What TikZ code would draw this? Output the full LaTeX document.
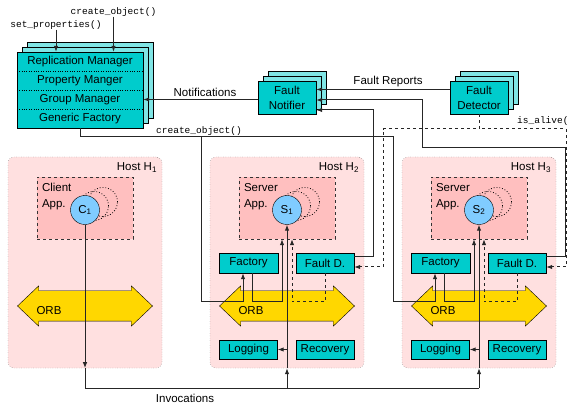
\documentclass[tikz,border=0pt]{standalone}
\usepackage{fontspec}
\setmainfont{Liberation Sans}
\setmonofont{Liberation Mono}
\usetikzlibrary{shapes.arrows,shadows,calc,arrows.meta}

\definecolor{boxcyan}{HTML}{00CCCC}
\definecolor{backcyan}{HTML}{80E5E5}
\definecolor{hostpink}{HTML}{FFE0E0}
\definecolor{apppink}{HTML}{FFBFBF}
\definecolor{objblue}{HTML}{80CCFF}
\definecolor{orbyellow}{HTML}{FFD700}
\definecolor{wiregray}{HTML}{262626}

\begin{document}
\begin{tikzpicture}[x=1pt, y=-1pt]
    % ---------- styles ----------
    \tikzset{
        lbl/.style={font=\fontsize{11.5}{16}\selectfont, inner sep=0pt},
        code/.style={font=\ttfamily\fontsize{9.5}{11}\selectfont, inner sep=0pt},
        cbox/.style={draw=black, fill=boxcyan, font=\fontsize{11.5}{15}\selectfont, inner sep=0pt, align=center},
        stacked/.style={general shadow={shadow xshift=10pt, shadow yshift=10pt, fill=backcyan, draw=black},
                        general shadow={shadow xshift=5pt, shadow yshift=5pt, fill=backcyan, draw=black}},
        row/.style={font=\fontsize{11.5}{13}\selectfont, inner sep=0pt, minimum width=126pt, minimum height=19pt},
        host/.style={draw=black!70, dotted, fill=hostpink, rounded corners=6pt, minimum width=154pt, minimum height=211pt},
        app/.style={draw=black!80, dashed, fill=apppink, minimum width=96pt, minimum height=62pt},
        obj/.style={circle, draw=black, fill=objblue, minimum size=29pt, inner sep=0pt, font=\fontsize{11.5}{13}\selectfont},
        ghost/.style={circle, draw=black, dotted, thick, minimum size=29pt, inner sep=0pt},
        orb/.style={double arrow, draw=black, fill=orbyellow, double arrow head extend=5pt,
                    double arrow tip angle=87, inner xsep=0pt, inner ysep=15pt, minimum height=135pt},
        wire/.style={draw=wiregray, line width=1pt},
        arr/.style={wire, -{Latex[length=6pt,width=4.5pt]}},
        dasharr/.style={arr, dashed},
    }
    \useasboundingbox (0,0) rectangle (568,406);

    % ---------- hosts with app box, object and ORB ----------
    \foreach \x/\n in {85/1, 287/2, 479/3} {
        \node[host] (h\n) at (\x,262.5) {};
        \node[lbl, anchor=north east] (hl\n) at ($(h\n.north east)+(-5,6)$) {Host H\textsubscript{\n}};
        \node[app] (app\n) at (\x,208) {};
        \node[ghost] (gb\n) at (\x+18,202) {};
        \node[ghost] (ga\n) at (\x+9,206) {};
        \node[orb] (orb\n) at (\x,306) {};
        \node[lbl] (orbl\n) at (\x-36,311) {ORB};
    }
    \node[lbl, anchor=north west, align=left] (appl1) at ($(app1.north west)+(5,6)$) {Client\\App.};
    \node[lbl, anchor=north west, align=left] (appl2) at ($(app2.north west)+(5,6)$) {Server\\App.};
    \node[lbl, anchor=north west, align=left] (appl3) at ($(app3.north west)+(5,6)$) {Server\\App.};
    \node[obj] (obj1) at (85,210) {C\textsubscript{1}};
    \node[obj] (obj2) at (287,210) {S\textsubscript{1}};
    \node[obj] (obj3) at (479,210) {S\textsubscript{2}};

    % ---------- replication services ----------
    \node[cbox, stacked, minimum width=126pt, minimum height=76pt] (mgr) at (80,90) {};
    \foreach \t/\n [count=\i] in {Replication Manager/rep, Property Manger/prop, Group Manager/grp, Generic Factory/gen}
        \node[row] (\n) at (80,42.5+19*\i) {\t};
    \foreach \a in {rep,prop,grp}
        \draw[dotted] (\a.south west) -- (\a.south east);

    \node[cbox, stacked, minimum width=58pt, minimum height=33pt] (fn) at (287,97.5) {Fault\\Notifier};
    \node[cbox, stacked, minimum width=58pt, minimum height=33pt] (fd) at (479,97.5) {Fault\\Detector};

    \node[code] (crt) at (113.5,12) {create\_object()};
    \node[code] (setp) at (56,25) {set\_properties()};
    \node[code] (crt2) at (199,131) {create\_object()};
    \node[code, anchor=west] (isal) at (517,121) {is\_alive(};
    \node[lbl] (notl) at (205,92) {Notifications};
    \node[lbl] (frl) at (388,82) {Fault Reports};
    \node[lbl] (invl) at (185,398) {Invocations};

    % ---------- per-server boxes ----------
    \foreach \x/\n in {287/2, 479/3} {
        \node[cbox, minimum width=59pt, minimum height=20pt] (fac\n) at (\x-38.5,263) {Factory};
        \node[cbox, minimum width=58pt, minimum height=20pt] (fdt\n) at (\x+38,263) {Fault D.};
        \node[cbox, minimum width=58pt, minimum height=19pt] (log\n) at (\x-38.5,349.5) {Logging};
        \node[cbox, minimum width=58pt, minimum height=19pt] (rec\n) at (\x+38,349.5) {Recovery};
    }

    % ---------- connections ----------
    \draw[arr] (setp.south) -- (setp.south |- mgr.north);
    \draw[arr] (crt.south) -- (crt.south |- mgr.north);
    \draw[arr] (fn.west |- grp.east) -- (grp.east);
    \draw[arr] ([yshift=8pt]fd.west) -- ([yshift=8pt]fn.east);
    \draw[arr] ([yshift=6pt]fdt3.east) -| (565,148) -| (422,100) -- ($(fn.east)+(0,2.5)$);
    \draw[arr] ([yshift=6pt]fdt2.east) -| (373,110) -- ($(fn.east)+(0,12.5)$);
    \draw[dasharr] (fd.south) |- (383,129) |- ([yshift=-4pt]fdt2.east);
    \draw[dasharr] (fd.south) |- (566,129) |- ([yshift=-4pt]fdt3.east);

    \draw[arr] (gen.south) |- (393,137) |- (435,302) -- ([xshift=-5.5pt]fac3.south);
    \draw[arr] (201,137) |- (243,302) -- ([xshift=-5.5pt]fac2.south);

    \foreach \x/\n in {287/2, 479/3} {
        \draw[arr] ([xshift=4pt]fac\n.south) |- (\x-5,302) -- ([xshift=-5pt]app\n.south);
        \draw[dasharr] (fdt\n.south) |- (\x+5,302) -- ([xshift=5pt]app\n.south);
        \draw[arr] (obj\n |- log\n.east) -- (log\n.east);
    }

    % invocations from the client down and up into both servers
    \coordinate (inv) at (85,388);
    \draw[arr] (obj1.south) -- (obj1 |- h1.south);
    \draw[wire] (obj1 |- h1.south) -- (inv) -- (obj3 |- inv);
    \foreach \n in {2,3} {
        \draw[arr] (obj\n |- inv) -- (obj\n |- h\n.south);
        \draw[arr] (obj\n |- h\n.south) -- (obj\n.south);
    }
\end{tikzpicture}
\end{document}
